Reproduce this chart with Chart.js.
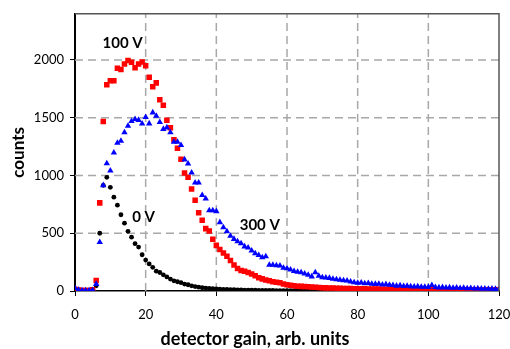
<!DOCTYPE html>
<html>
<head>
<meta charset="utf-8">
<script src="https://cdn.jsdelivr.net/npm/chart.js@4.4.0/dist/chart.umd.min.js"></script>
<style>
  html, body { margin: 0; padding: 0; background: #fff; }
  #wrap { width: 510px; height: 349px; }
</style>
</head>
<body>
<div id="wrap"><canvas id="chart" width="510" height="349"></canvas></div>
<script>
// ── Data ─────────────────────────────────────────────────────────────────────
const gain = [
  0, 1, 2, 3, 4, 5, 6, 7, 8, 9, 10, 11, 12, 13, 14, 15, 16, 17, 18, 19,
  20, 21, 22, 23, 24, 25, 26, 27, 28, 29, 30, 31, 32, 33, 34, 35, 36, 37, 38, 39,
  40, 41, 42, 43, 44, 45, 46, 47, 48, 49, 50, 51, 52, 53, 54, 55, 56, 57, 58, 59,
  60, 61, 62, 63, 64, 65, 66, 67, 68, 69, 70, 71, 72, 73, 74, 75, 76, 77, 78, 79,
  80, 81, 82, 83, 84, 85, 86, 87, 88, 89, 90, 91, 92, 93, 94, 95, 96, 97, 98, 99,
  100, 101, 102, 103, 104, 105, 106, 107, 108, 109, 110, 111, 112, 113, 114, 115, 116, 117, 118, 119,
  120
];

const counts0V = [
  10, 5, 3, 3, 3, 5, 45, 500, 915, 984, 898, 812, 743, 660, 587, 517, 466, 410, 380, 314,
  268, 234, 205, 172, 160, 140, 122, 103, 88, 80, 72, 60, 54, 45, 38, 33, 28, 25, 22, 20,
  18, 16, 14, 13, 12, 11, 10, 9, 8, 8, 7, 7, 6, 6, 5, 5, 5, 4, 4, 4,
  4, 3, 3, 3, 3, 3, 2, 2, 2, 2, 2, 2, 1, 2, 1, 1, 2, 1, 1, 1,
  1, 1, 1, 0, 1, 1, 1, 0, 1, 1, 0, 1, 0, 1, 0, 0, 1, 0, 0, 1,
  0, 0, 1, 0, 0, 0, 1, 0, 0, 0, 0, 1, 0, 0, 0, 0, 0, 1, 0, 0,
  0
];

const counts100V = [
  15, 8, 5, 5, 5, 10, 90, 763, 1467, 1785, 1820, 1820, 1929, 1918, 1966, 1995, 1980, 1932, 1966, 1983,
  1950, 1851, 1768, 1802, 1656, 1608, 1479, 1413, 1310, 1235, 1141, 1021, 984, 883, 786, 677, 612, 540, 520, 448,
  395, 360, 330, 300, 265, 225, 195, 178, 170, 160, 148, 133, 115, 105, 96, 88, 80, 76, 72, 60,
  55, 50, 45, 42, 40, 38, 36, 34, 32, 30, 28, 27, 26, 25, 24, 23, 22, 21, 21, 20,
  20, 19, 19, 18, 18, 17, 17, 16, 16, 15, 15, 15, 14, 14, 14, 13, 13, 13, 12, 12,
  12, 12, 11, 11, 11, 11, 10, 10, 10, 10, 10, 9, 9, 9, 9, 9, 8, 8, 8, 8,
  8
];

const counts300V = [
  25, 10, 5, 5, 5, 8, 60, 422, 915, 1104, 1041, 1198, 1282, 1299, 1373, 1430, 1471, 1488, 1480, 1448,
  1505, 1450, 1545, 1516, 1462, 1402, 1415, 1373, 1290, 1290, 1262, 1138, 1102, 1025, 938, 938, 830, 800, 698, 698,
  690, 595, 550, 515, 477, 450, 430, 412, 385, 375, 350, 325, 310, 290, 300, 225, 225, 222, 220, 200,
  195, 185, 172, 165, 160, 150, 140, 125, 160, 130, 118, 115, 112, 105, 100, 96, 92, 90, 80, 75,
  70, 72, 65, 68, 62, 60, 62, 55, 58, 52, 50, 45, 48, 42, 44, 40, 38, 40, 35, 36,
  34, 50, 33, 30, 32, 28, 30, 26, 28, 25, 26, 22, 24, 20, 22, 19, 20, 18, 19, 17,
  16
];

const xTicks = [0, 20, 40, 60, 80, 100, 120];
const yTicks = [0, 500, 1000, 1500, 2000];

// curve labels: [text, gain, counts]
const curveLabels = [
  ['100 V', 13.5, 2150],
  ['0 V', 19.4, 640],
  ['300 V', 52.3, 571]
];

// ── Helpers ──────────────────────────────────────────────────────────────────
const FONT = "Lato, 'Open Sans', 'DejaVu Sans', sans-serif";
const pts = vals => vals.map((v, i) => ({ x: gain[i], y: v }));

// dashed grid behind the points
const dashedGrid = {
  id: 'dashedGrid',
  beforeDatasetsDraw(chart) {
    const { ctx, chartArea: a, scales: { x, y } } = chart;
    ctx.save();
    ctx.strokeStyle = '#a8a8a8';
    ctx.lineWidth = 1.5;
    ctx.setLineDash([8, 5]);
    xTicks.filter(v => v > 0 && v < 120).forEach(v => {
      const px = x.getPixelForValue(v);
      ctx.beginPath(); ctx.moveTo(px, a.bottom); ctx.lineTo(px, a.top); ctx.stroke();
    });
    yTicks.filter(v => v > 0).forEach(v => {
      const py = y.getPixelForValue(v);
      ctx.beginPath(); ctx.moveTo(a.left, py); ctx.lineTo(a.right, py); ctx.stroke();
    });
    ctx.restore();
  }
};

// top/right box edges, curve labels and the x title
const overlay = {
  id: 'overlay',
  afterDatasetsDraw(chart) {
    const { ctx, chartArea: a, scales } = chart;
    ctx.save();
    ctx.strokeStyle = '#555';
    ctx.lineWidth = 1.5;
    ctx.beginPath();
    ctx.moveTo(a.left, a.top);
    ctx.lineTo(a.right, a.top);
    ctx.lineTo(a.right, a.bottom);
    ctx.stroke();

    ctx.fillStyle = '#000';
    ctx.textAlign = 'center';
    ctx.textBaseline = 'middle';
    ctx.font = `bold 15px ${FONT}`;
    curveLabels.forEach(([t, gx, gy]) => {
      ctx.fillText(t, scales.x.getPixelForValue(gx), scales.y.getPixelForValue(gy));
    });

    ctx.font = `bold 18px ${FONT}`;
    ctx.fillText('detector gain, arb. units', chart.width / 2, 339);
    ctx.restore();
  }
};

// ── Chart ────────────────────────────────────────────────────────────────────
new Chart(document.getElementById('chart'), {
  type: 'scatter',
  data: {
    datasets: [
      { label: '300 V', data: pts(counts300V), pointStyle: 'triangle', pointRadius: 3.7,
        backgroundColor: '#0000ff', borderColor: '#0000ff', borderWidth: 0 },
      { label: '100 V', data: pts(counts100V), pointStyle: 'rect', pointRadius: 3.9,
        backgroundColor: '#ff0000', borderColor: '#ff0000', borderWidth: 0 },
      { label: '0 V', data: pts(counts0V), pointStyle: 'circle', pointRadius: 2.4,
        backgroundColor: '#000', borderColor: '#000', borderWidth: 0 }
    ]
  },
  options: {
    responsive: false,
    animation: false,
    events: [],
    layout: { padding: { top: 9, right: 0, bottom: 0, left: 0 } },
    plugins: { legend: { display: false }, tooltip: { enabled: false } },
    scales: {
      x: {
        type: 'linear', min: 0, max: 120,
        afterBuildTicks: s => { s.ticks = xTicks.map(v => ({ value: v })); },
        afterFit: s => { s.height = 58; s.paddingRight = 11; s.paddingLeft = 0; },
        ticks: { color: '#000', font: { family: FONT, size: 13 }, padding: 11, maxRotation: 0 },
        grid: { drawOnChartArea: false, tickColor: '#000', tickLength: 5, tickWidth: 1 },
        border: { color: '#000', width: 1.5 }
      },
      y: {
        type: 'linear', min: 0, max: 2400,
        afterBuildTicks: s => { s.ticks = yTicks.map(v => ({ value: v })); },
        afterFit: s => { s.width = 75; },
        ticks: { color: '#000', font: { family: FONT, size: 13 }, padding: 6, callback: v => String(v) },
        grid: { drawOnChartArea: false, tickColor: '#000', tickLength: 5, tickWidth: 1 },
        border: { color: '#000', width: 2 },
        title: { display: true, text: 'counts', color: '#000',
          font: { family: FONT, size: 17, weight: 'bold' }, padding: { top: 8, bottom: 4 } }
      }
    }
  },
  plugins: [dashedGrid, overlay]
});
</script>
</body>
</html>
